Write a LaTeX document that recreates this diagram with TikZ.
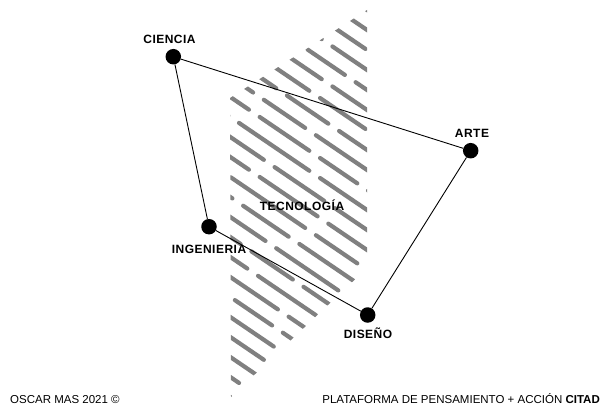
\documentclass[tikz,border=0pt]{standalone}
\usepackage{fontspec}
\setmainfont{Liberation Sans}
\begin{document}
\begin{tikzpicture}[x=1pt,y=-1pt,
  dot/.style={circle,fill=black,inner sep=0pt,minimum size=15.5pt},
  lbl/.style={font=\fontsize{12}{12}\selectfont\bfseries\addfontfeatures{LetterSpace=4},inner sep=0pt},
  foot/.style={font=\fontsize{11.5}{12}\selectfont,inner sep=0pt},
  edge/.style={draw=black,line width=0.9pt},
  hatch/.style={draw=black!50,line width=4.2pt,line cap=round}]
\useasboundingbox (0,0) rectangle (605,404);
% hatch band
\begin{scope}
\clip (230,98) -- (367,10) -- (367,268) -- (231,397) -- cycle;
\foreach \k/\a/\b/\c/\p in {0/55/75/45/10,1/85/50/60/30,2/45/70/90/55,3/75/55/50/20,4/60/95/45/75,5/50/65/75/5,6/90/45/55/40,7/70/75/50/90,8/55/50/85/15,9/95/60/45/60,10/45/85/70/35,11/75/45/60/80,12/60/70/55/25,13/50/90/50/50,14/85/55/75/70,15/55/75/45/0,16/70/50/90/45,17/45/60/70/85,18/90/70/50/20,19/60/45/85/55,20/75/85/55/10,21/50/55/60/65,22/85/75/45/30,23/55/50/95/95,24/70/60/50/15}{
  \draw[hatch,dash pattern=on \a pt off 13pt on \b pt off 13pt on \c pt off 13pt,dash phase=\p pt]
    (220,{-90+20*\k}) -- (380,{-90+20*\k+108.8});
}
\end{scope}
% dots
\node[dot] (cie) at (173.3,56.7) {};
\node[dot] (art) at (470.7,150.7) {};
\node[dot] (ing) at (209,226.7) {};
\node[dot] (dis) at (367.7,315) {};
% edges
\draw[edge] (cie) -- (art);
\draw[edge] (art) -- (dis);
\draw[edge] (dis) -- (ing);
\draw[edge] (ing) -- (cie);
% labels
\node[lbl] (lcie) at (169.5,39) {CIENCIA};
\node[lbl] (lart) at (472,133) {ARTE};
\node[lbl] (ling) at (209,249.5) {INGENIERIA};
\node[lbl] (ldis) at (368,333) {DISEÑO};
\node[lbl] (ltec) at (302,205) {TECNOLOGÍA};
% footer
\node[foot,anchor=base west] (fl) at (10,403) {OSCAR MAS 2021 ©};
\node[foot,anchor=base east] (fr) at (600,403) {PLATAFORMA DE PENSAMIENTO + ACCIÓN \textbf{CITAD}};
\end{tikzpicture}
\end{document}
